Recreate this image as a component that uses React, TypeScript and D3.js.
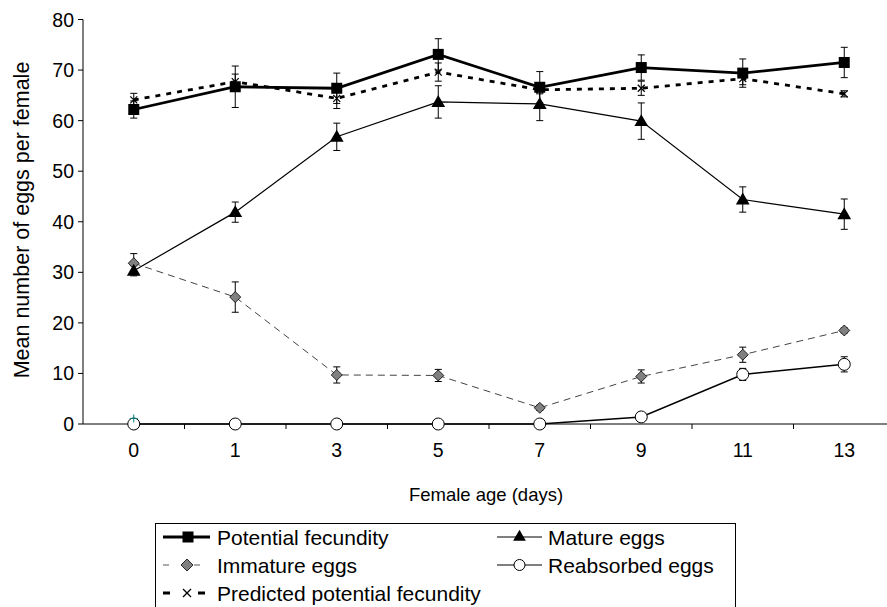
import React from "react";
import * as d3 from "d3";

// categories (female age, days)
const ages = ["0", "1", "3", "5", "7", "9", "11", "13"];

// means and standard errors
const potential = [62.2, 66.7, 66.4, 73.1, 66.6, 70.5, 69.4, 71.5];
const potentialErr = [1.7, 4.1, 3.0, 3.1, 3.1, 2.5, 2.8, 3.0];
const predicted = [64.1, 67.7, 64.4, 69.6, 66.1, 66.4, 68.3, 65.3];
const predictedErr = [1.3, 1.5, 2.0, 1.8, 0.8, 1.4, 1.2, 0.6];
const mature = [30.3, 41.9, 56.8, 63.7, 63.3, 59.9, 44.4, 41.5];
const matureErr = [1.0, 2.0, 2.7, 3.2, 3.3, 3.6, 2.5, 3.0];
const immature = [31.8, 25.1, 9.7, 9.6, 3.2, 9.4, 13.7, 18.5];
const immatureErr = [1.9, 3.0, 1.6, 1.2, 0.5, 1.3, 1.5, 0.5];
const reabsorbed = [0, 0, 0, 0, 0, 1.4, 9.8, 11.8];
const reabsorbedErr = [0, 0, 0, 0, 0, 0, 1.2, 1.5];

const yTicks = [0, 10, 20, 30, 40, 50, 60, 70, 80];

const FONT = "Liberation Sans, Arial, sans-serif";

export default function App() {
  const W = 887;
  const H = 607;
  const x = d3.scaleBand().domain(ages).range([83, 895]).padding(0);
  const y = d3.scaleLinear().domain([0, 80]).range([424, 19.5]);
  const cx = (a: string) => (x(a) as number) + x.bandwidth() / 2;

  const lineGen = (vals: number[]) =>
    d3.line<number>().x((_, i) => cx(ages[i])).y((v) => y(v))(vals) as string;

  const errorBars = (vals: number[], errs: number[], key: string) =>
    vals.map((v, i) =>
      errs[i] > 0 ? (
        <g key={key + i} stroke="#000" strokeWidth={1}>
          <line x1={cx(ages[i])} x2={cx(ages[i])} y1={y(v - errs[i])} y2={y(v + errs[i])} />
          <line x1={cx(ages[i]) - 3.5} x2={cx(ages[i]) + 3.5} y1={y(v - errs[i])} y2={y(v - errs[i])} />
          <line x1={cx(ages[i]) - 3.5} x2={cx(ages[i]) + 3.5} y1={y(v + errs[i])} y2={y(v + errs[i])} />
        </g>
      ) : null
    );

  const square = (px: number, py: number, s: number, k: string) => (
    <rect key={k} x={px - s / 2} y={py - s / 2} width={s} height={s} fill="#000" />
  );
  const triangle = (px: number, py: number, s: number, k: string) => (
    <path key={k} d={d3.symbol(d3.symbolTriangle, s)() as string} transform={`translate(${px},${py + 1})`} fill="#000" />
  );
  const diamond = (px: number, py: number, s: number, k: string) => (
    <path key={k} d={`M${px},${py - s}L${px + s},${py}L${px},${py + s}L${px - s},${py}Z`} fill="#808080" stroke="#000" strokeWidth={0.8} />
  );
  const circle = (px: number, py: number, r: number, k: string) => (
    <circle key={k} cx={px} cy={py} r={r} fill="#fff" stroke="#000" strokeWidth={1} />
  );
  const cross = (px: number, py: number, s: number, k: string) => (
    <g key={k} stroke="#000" strokeWidth={1.2}>
      <line x1={px - s} x2={px + s} y1={py - s} y2={py + s} />
      <line x1={px - s} x2={px + s} y1={py + s} y2={py - s} />
    </g>
  );

  const xTicks = ages.map((a) => x(a) as number).slice(1);

  return (
    <svg width={W} height={H} style={{ position: "absolute", left: 0, top: 0 }} fontFamily={FONT}>
      <rect width={W} height={H} fill="#fff" />
      {/* y axis */}
      <line x1={83} x2={83} y1={y(80)} y2={y(0)} stroke="#000" />
      {yTicks.map((t) => (
        <g key={"yt" + t}>
          <line x1={78} x2={83} y1={y(t)} y2={y(t)} stroke="#000" />
          <text x={74} y={y(t)} dy="0.36em" textAnchor="end" fontSize={19.5}>
            {t}
          </text>
        </g>
      ))}
      {/* x axis */}
      <line x1={83} x2={895} y1={y(0)} y2={y(0)} stroke="#000" />
      {xTicks.map((t, i) => (
        <line key={"xt" + i} x1={t} x2={t} y1={y(0)} y2={y(0) + 5} stroke="#000" />
      ))}
      {ages.map((a) => (
        <text key={"xl" + a} x={cx(a)} y={457} textAnchor="middle" fontSize={19.5}>
          {a}
        </text>
      ))}
      <text x={486} y={501} textAnchor="middle" fontSize={18.5}>
        Female age (days)
      </text>
      <text transform={`translate(29,220) rotate(-90)`} textAnchor="middle" fontSize={21.5}>
        Mean number of eggs per female
      </text>

      {/* reabsorbed */}
      <path d={lineGen(reabsorbed)} fill="none" stroke="#000" strokeWidth={1.5} />
      {/* immature */}
      <path d={lineGen(immature)} fill="none" stroke="#444" strokeWidth={1} strokeDasharray="7,5" />
      {/* mature */}
      <path d={lineGen(mature)} fill="none" stroke="#000" strokeWidth={1.2} />
      {/* predicted */}
      <path d={lineGen(predicted)} fill="none" stroke="#000" strokeWidth={2.8} strokeDasharray="5,6" />
      {/* potential */}
      <path d={lineGen(potential)} fill="none" stroke="#000" strokeWidth={2.8} />

      {errorBars(reabsorbed, reabsorbedErr, "re")}
      {errorBars(immature, immatureErr, "ie")}
      {errorBars(mature, matureErr, "me")}
      {errorBars(predicted, predictedErr, "pe")}
      {errorBars(potential, potentialErr, "fe")}

      {reabsorbed.map((v, i) => circle(cx(ages[i]), y(v), 6, "rc" + i))}
      {immature.map((v, i) => diamond(cx(ages[i]), y(v), 5.5, "id" + i))}
      {mature.map((v, i) => triangle(cx(ages[i]), y(v), 82, "mt" + i))}
      {predicted.map((v, i) => cross(cx(ages[i]), y(v), 3.5, "px" + i))}
      {potential.map((v, i) => square(cx(ages[i]), y(v), 11, "ps" + i))}
      {/* stray marker at day 0 */}
      <g stroke="#008080" strokeWidth={1}>
        <line x1={cx("0") - 4} x2={cx("0") + 4} y1={y(1.1)} y2={y(1.1)} />
        <line x1={cx("0")} x2={cx("0")} y1={y(1.1) - 4} y2={y(1.1) + 4} />
      </g>

      {/* legend */}
      <rect x={155.5} y={523.5} width={580} height={100} fill="#fff" stroke="#000" />
      <g fontSize={21}>
        <line x1={163} x2={210} y1={537} y2={537} stroke="#000" strokeWidth={2.8} />
        {square(188, 537, 11, "lg1")}
        <text x={217} y={537} dy="0.36em">Potential fecundity</text>

        <line x1={163} x2={210} y1={565} y2={565} stroke="#555" strokeWidth={1} strokeDasharray="6,25" />
        {diamond(187, 565, 6, "lg2")}
        <text x={217} y={565} dy="0.36em">Immature eggs</text>

        <line x1={163} x2={210} y1={593} y2={593} stroke="#000" strokeWidth={2.8} strokeDasharray="7,28" />
        {cross(187, 593, 4, "lg3")}
        <text x={217} y={593} dy="0.36em">Predicted potential fecundity</text>

        <line x1={497} x2={542} y1={537} y2={537} stroke="#000" strokeWidth={1.2} />
        {triangle(519.5, 536, 70, "lg4")}
        <text x={548} y={537} dy="0.36em">Mature eggs</text>

        <line x1={497} x2={542} y1={565} y2={565} stroke="#000" strokeWidth={1.2} />
        {circle(519.5, 565, 5.5, "lg5")}
        <text x={548} y={565} dy="0.36em">Reabsorbed eggs</text>
      </g>
    </svg>
  );
}
